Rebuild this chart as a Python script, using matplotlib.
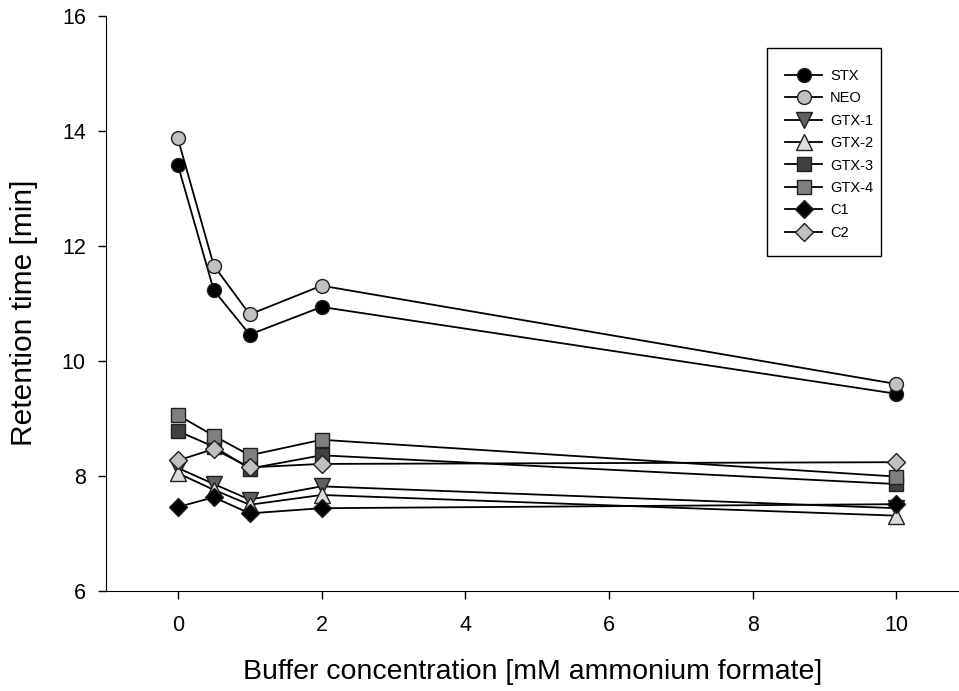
import matplotlib
matplotlib.use("Agg")
import matplotlib.pyplot as plt
from matplotlib.patches import Rectangle

plt.rcParams['font.family'] = ['Liberation Sans', 'DejaVu Sans']

conc = [0, 0.5, 1, 2, 10]
stx   = [13.41, 11.23, 10.46, 10.94, 9.43]
neo   = [13.87, 11.66, 10.81, 11.31, 9.60]
gtx1  = [8.14, 7.86, 7.59, 7.82, 7.44]
gtx2  = [8.05, 7.76, 7.50, 7.67, 7.31]
gtx3  = [8.78, 8.51, 8.13, 8.36, 7.86]
gtx4  = [9.06, 8.70, 8.36, 8.63, 7.99]
c1    = [7.46, 7.63, 7.35, 7.44, 7.51]
c2    = [8.27, 8.47, 8.15, 8.21, 8.24]

series = [
    ("STX", stx, 'o', '#000000'),
    ("NEO", neo, 'o', '#c0c0c0'),
    ("GTX-1", gtx1, 'v', '#606060'),
    ("GTX-2", gtx2, '^', '#dcdcdc'),
    ("GTX-3", gtx3, 's', '#404040'),
    ("GTX-4", gtx4, 's', '#808080'),
    ("C1", c1, 'D', '#000000'),
    ("C2", c2, 'D', '#c0c0c0'),
]

W, H = 959, 691
fig = plt.figure(figsize=(W/100, H/100), dpi=100)
ax = fig.add_axes([106/W, 1-591/H, 1-106/W, (591-16)/H])

for name, vals, m, col in series:
    ms = 10 if m in ('o', 's') else (9 if m == 'D' else 11)
    ax.plot(conc, vals, color='black', lw=1.3, marker=m, markersize=ms,
            markerfacecolor=col, markeredgecolor='#202020', markeredgewidth=1.0,
            label=name)

ax.set_xlim(-1, (W-177.3)/71.9)
ax.set_ylim(6, 16)
ax.set_xticks([0, 2, 4, 6, 8, 10])
ax.set_yticks([6, 8, 10, 12, 14, 16])
ax.spines['top'].set_visible(False)
ax.spines['right'].set_visible(False)
ax.tick_params(direction='out', length=6, width=1, labelsize=15.5)
ax.tick_params(axis='x', pad=11)
ax.tick_params(axis='y', pad=8.5)
ax.set_xlabel("Buffer concentration [mM ammonium formate]", fontsize=20.5, labelpad=17)
ax.set_ylabel("Retention time [min]", fontsize=21.5)
ax.yaxis.set_label_coords((38-106)/853, (591-313)/575)

# legend frame
ax.add_patch(Rectangle((767/W, 1-256/H), 114/W, 208/H, transform=fig.transFigure,
                       facecolor='white', edgecolor='black', lw=1.0, zorder=4,
                       clip_on=False))
leg = ax.legend(loc='upper left', bbox_to_anchor=(785/W, 1-69/H),
                bbox_transform=fig.transFigure, borderaxespad=0, borderpad=0,
                fontsize=10.5, frameon=False, markerscale=1.0,
                handlelength=2.55, labelspacing=0.575, handletextpad=0.55)
leg.set_zorder(5)

fig.savefig("out.png", dpi=100)
